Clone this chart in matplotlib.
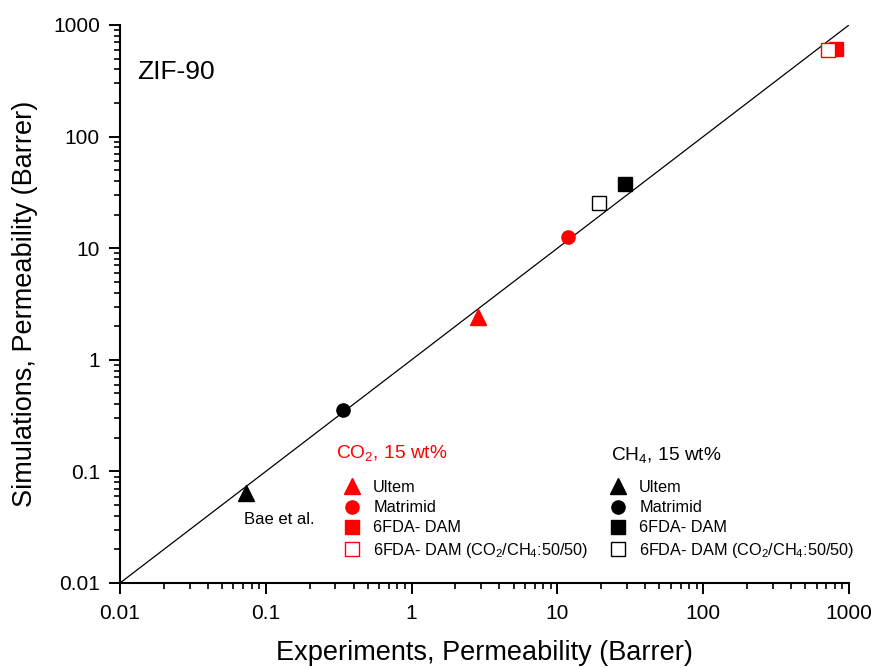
import numpy as np
import matplotlib.pyplot as plt
from matplotlib.ticker import LogLocator, FixedLocator, NullFormatter

plt.rcParams['font.family'] = ['Liberation Sans', 'DejaVu Sans']
plt.rcParams['mathtext.fontset'] = 'custom'
plt.rcParams['mathtext.rm'] = 'Liberation Sans'

labels = ['Ultem', 'Matrimid', '6FDA- DAM', '6FDA- DAM (CO$_2$/CH$_4$:50/50)']
markers = ['^', 'o', 's', 's']
filled = [True, True, True, False]
co2_exp = [2.85, 11.8, 820, 720]
co2_sim = [2.44, 12.5, 610, 597]
ch4_exp = [0.073, 0.34, 29.1, 19.3]
ch4_sim = [0.064, 0.357, 37.4, 25.2]
parity = [0.01, 1000]

W, H = 873, 668
fig = plt.figure(figsize=(W / 100, H / 100), dpi=100)
ax = fig.add_axes([120 / W, 1 - 583 / H, 729 / W, 558 / H])

ax.plot(parity, parity, color='black', lw=0.9, zorder=1)

def draw(xs, ys, color):
    hs = []
    for x, y, m, f, lab in zip(xs, ys, markers, filled, labels):
        ms = 11 if m == '^' else 9.5
        h, = ax.plot([x], [y], ls='none', marker=m, ms=ms,
                     mfc=color if f else 'white', mec=color, mew=1.0,
                     label=lab, zorder=3, clip_on=False)
        hs.append(h)
    return hs

h_co2 = draw(co2_exp, co2_sim, 'red')
h_ch4 = draw(ch4_exp, ch4_sim, 'black')

ax.set_xscale('log')
ax.set_yscale('log')
ax.set_xlim(0.01, 1000)
ax.set_ylim(0.01, 1000)

ticks = [0.01, 0.1, 1, 10, 100, 1000]
ticklabels = ['0.01', '0.1', '1', '10', '100', '1000']
ax.xaxis.set_major_locator(FixedLocator(ticks))
ax.yaxis.set_major_locator(FixedLocator(ticks))
ax.set_xticklabels(ticklabels)
ax.set_yticklabels(ticklabels)
ax.xaxis.set_minor_locator(LogLocator(base=10, subs=np.arange(2, 10)))
ax.yaxis.set_minor_locator(LogLocator(base=10, subs=np.arange(2, 10)))
ax.xaxis.set_minor_formatter(NullFormatter())
ax.yaxis.set_minor_formatter(NullFormatter())
ax.tick_params(which='major', direction='out', length=8, width=1.4, labelsize=15)
ax.tick_params(axis='x', which='major', pad=7)
ax.tick_params(axis='y', which='major', pad=6.5)
ax.tick_params(which='minor', direction='out', length=4, width=1.2)

for s in ['top', 'right']:
    ax.spines[s].set_visible(False)
for s in ['left', 'bottom']:
    ax.spines[s].set_linewidth(1.5)

ax.set_xlabel('Experiments, Permeability (Barrer)', fontsize=19.5, labelpad=12.5)
ax.set_ylabel('Simulations, Permeability (Barrer)', fontsize=19.5, labelpad=11)

fig.text(137 / W, 1 - 72 / H, 'ZIF-90', fontsize=19, va='center')
fig.text(244 / W, 1 - 520 / H, 'Bae et al.', fontsize=12, va='center')

fig.text(336 / W, 1 - 454 / H, 'CO$_2$, 15 wt%', fontsize=13.8, color='red', va='center')
fig.text(611 / W, 1 - 456 / H, 'CH$_4$, 15 wt%', fontsize=13.8, color='black', va='center')

leg_kw = dict(loc='upper left', frameon=False, fontsize=11.7, handlelength=1.0,
              handletextpad=0.8, labelspacing=0.32, borderpad=0, borderaxespad=0,
              bbox_transform=fig.transFigure)
leg1 = ax.legend(handles=h_co2, bbox_to_anchor=(344 / W, 1 - 480 / H), **leg_kw)
ax.add_artist(leg1)
leg2 = ax.legend(handles=h_ch4, bbox_to_anchor=(610 / W, 1 - 480 / H), **leg_kw)

fig.savefig('out.png', dpi=100)
